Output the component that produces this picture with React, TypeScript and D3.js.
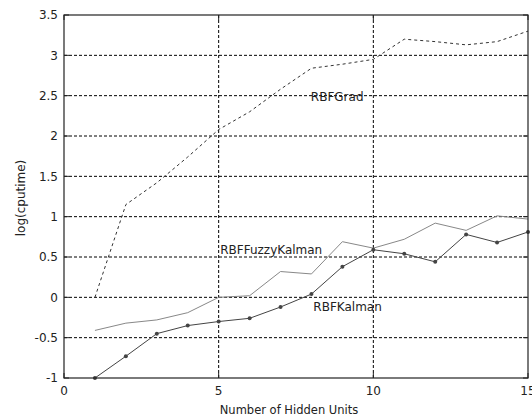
import React, { useRef, useEffect } from "react";
import * as d3 from "d3";

const hiddenUnits = [1, 2, 3, 4, 5, 6, 7, 8, 9, 10, 11, 12, 13, 14, 15];
const rbfGrad = [0.0, 1.15, 1.42, 1.74, 2.08, 2.3, 2.58, 2.84, 2.89, 2.95, 3.2, 3.17, 3.13, 3.17, 3.3];
const rbfFuzzyKalman = [-0.41, -0.32, -0.28, -0.19, 0.0, 0.02, 0.32, 0.29, 0.69, 0.61, 0.72, 0.92, 0.83, 1.01, 0.97];
const rbfKalman = [-1.0, -0.73, -0.45, -0.35, -0.3, -0.26, -0.12, 0.04, 0.38, 0.59, 0.54, 0.44, 0.78, 0.68, 0.81];

const xTicks = [0, 5, 10, 15];
const yTicks = [-1, -0.5, 0, 0.5, 1, 1.5, 2, 2.5, 3, 3.5];

const seriesLabels = [
    { name: "RBFGrad", x: 7.98, y: 2.49 },
    { name: "RBFFuzzyKalman", x: 5.05, y: 0.59 },
    { name: "RBFKalman", x: 8.06, y: -0.12 },
];

const App = () => {
    const svgRef = useRef<SVGSVGElement | null>(null);

    useEffect(() => {
        const width = 532;
        const height = 418;
        const svg = d3.select(svgRef.current);
        svg.selectAll("*").remove();

        const margin = { top: 15, right: 4, bottom: 40, left: 64 };
        const innerWidth = width - margin.left - margin.right;
        const innerHeight = height - margin.top - margin.bottom;

        const x = d3.scaleLinear().domain([0, 15]).range([0, innerWidth]);
        const y = d3.scaleLinear().domain([-1, 3.5]).range([innerHeight, 0]);

        const font = "'DejaVu Sans', Verdana, sans-serif";
        const tickLen = 5;

        svg.append("rect")
            .attr("width", width)
            .attr("height", height)
            .attr("fill", "#fff");

        const g = svg.append("g")
            .attr("transform", `translate(${margin.left},${margin.top})`);

        // grid lines
        g.selectAll(".hgrid")
            .data(yTicks.filter(t => t > -1 && t < 3.5))
            .enter()
            .append("line")
            .attr("x1", 0)
            .attr("x2", innerWidth)
            .attr("y1", d => y(d))
            .attr("y2", d => y(d))
            .attr("stroke", "#000")
            .attr("stroke-width", 1)
            .attr("stroke-dasharray", "3,2");

        g.selectAll(".vgrid")
            .data(xTicks.filter(t => t > 0 && t < 15))
            .enter()
            .append("line")
            .attr("x1", d => x(d))
            .attr("x2", d => x(d))
            .attr("y1", 0)
            .attr("y2", innerHeight)
            .attr("stroke", "#000")
            .attr("stroke-width", 1)
            .attr("stroke-dasharray", "3,2");

        // inward ticks on all four sides
        yTicks.forEach(t => {
            g.append("line")
                .attr("x1", 0).attr("x2", tickLen)
                .attr("y1", y(t)).attr("y2", y(t))
                .attr("stroke", "#222");
            g.append("line")
                .attr("x1", innerWidth - tickLen).attr("x2", innerWidth)
                .attr("y1", y(t)).attr("y2", y(t))
                .attr("stroke", "#222");
        });
        xTicks.forEach(t => {
            g.append("line")
                .attr("x1", x(t)).attr("x2", x(t))
                .attr("y1", innerHeight - tickLen).attr("y2", innerHeight)
                .attr("stroke", "#222");
            g.append("line")
                .attr("x1", x(t)).attr("x2", x(t))
                .attr("y1", 0).attr("y2", tickLen)
                .attr("stroke", "#222");
        });

        // series
        const line = d3.line<number>()
            .x((_, i) => x(hiddenUnits[i]))
            .y(d => y(d));

        g.append("path")
            .datum(rbfGrad)
            .attr("fill", "none")
            .attr("stroke", "#333")
            .attr("stroke-width", 1)
            .attr("stroke-dasharray", "3,3")
            .attr("d", line);

        g.append("path")
            .datum(rbfFuzzyKalman)
            .attr("fill", "none")
            .attr("stroke", "#888")
            .attr("stroke-width", 1)
            .attr("d", line);

        g.append("path")
            .datum(rbfKalman)
            .attr("fill", "none")
            .attr("stroke", "#444")
            .attr("stroke-width", 1)
            .attr("d", line);

        g.selectAll(".dot")
            .data(rbfKalman)
            .enter()
            .append("circle")
            .attr("cx", (_, i) => x(hiddenUnits[i]))
            .attr("cy", d => y(d))
            .attr("r", 2)
            .attr("fill", "#444");

        // frame
        g.append("rect")
            .attr("width", innerWidth)
            .attr("height", innerHeight)
            .attr("fill", "none")
            .attr("stroke", "#222")
            .attr("stroke-width", 1.2);

        // tick labels
        g.selectAll(".ylab")
            .data(yTicks)
            .enter()
            .append("text")
            .attr("x", -6)
            .attr("y", d => y(d))
            .attr("dy", "0.35em")
            .attr("text-anchor", "end")
            .attr("font-family", font)
            .attr("font-size", 12)
            .attr("fill", "#222")
            .text(d => String(d));

        g.selectAll(".xlab")
            .data(xTicks)
            .enter()
            .append("text")
            .attr("x", d => x(d))
            .attr("y", innerHeight + 17)
            .attr("text-anchor", "middle")
            .attr("font-family", font)
            .attr("font-size", 12)
            .attr("fill", "#222")
            .text(d => String(d));

        // series labels
        g.selectAll(".slab")
            .data(seriesLabels)
            .enter()
            .append("text")
            .attr("x", d => x(d.x))
            .attr("y", d => y(d.y))
            .attr("dy", "0.35em")
            .attr("font-family", font)
            .attr("font-size", 12)
            .attr("fill", "#222")
            .text(d => d.name);

        // axis titles
        svg.append("text")
            .attr("x", 289)
            .attr("y", height - 4)
            .attr("text-anchor", "middle")
            .attr("font-family", font)
            .attr("font-size", 11.5)
            .attr("fill", "#222")
            .text("Number of Hidden Units");

        svg.append("text")
            .attr("transform", `translate(25,198) rotate(-90)`)
            .attr("text-anchor", "middle")
            .attr("font-family", font)
            .attr("font-size", 12)
            .attr("fill", "#222")
            .text("log(cputime)");
    }, []);

    return (
        <svg
            ref={svgRef}
            width={532}
            height={418}
            style={{ position: "absolute", left: 0, top: 0, display: "block" }}
        />
    );
};

export default App;
